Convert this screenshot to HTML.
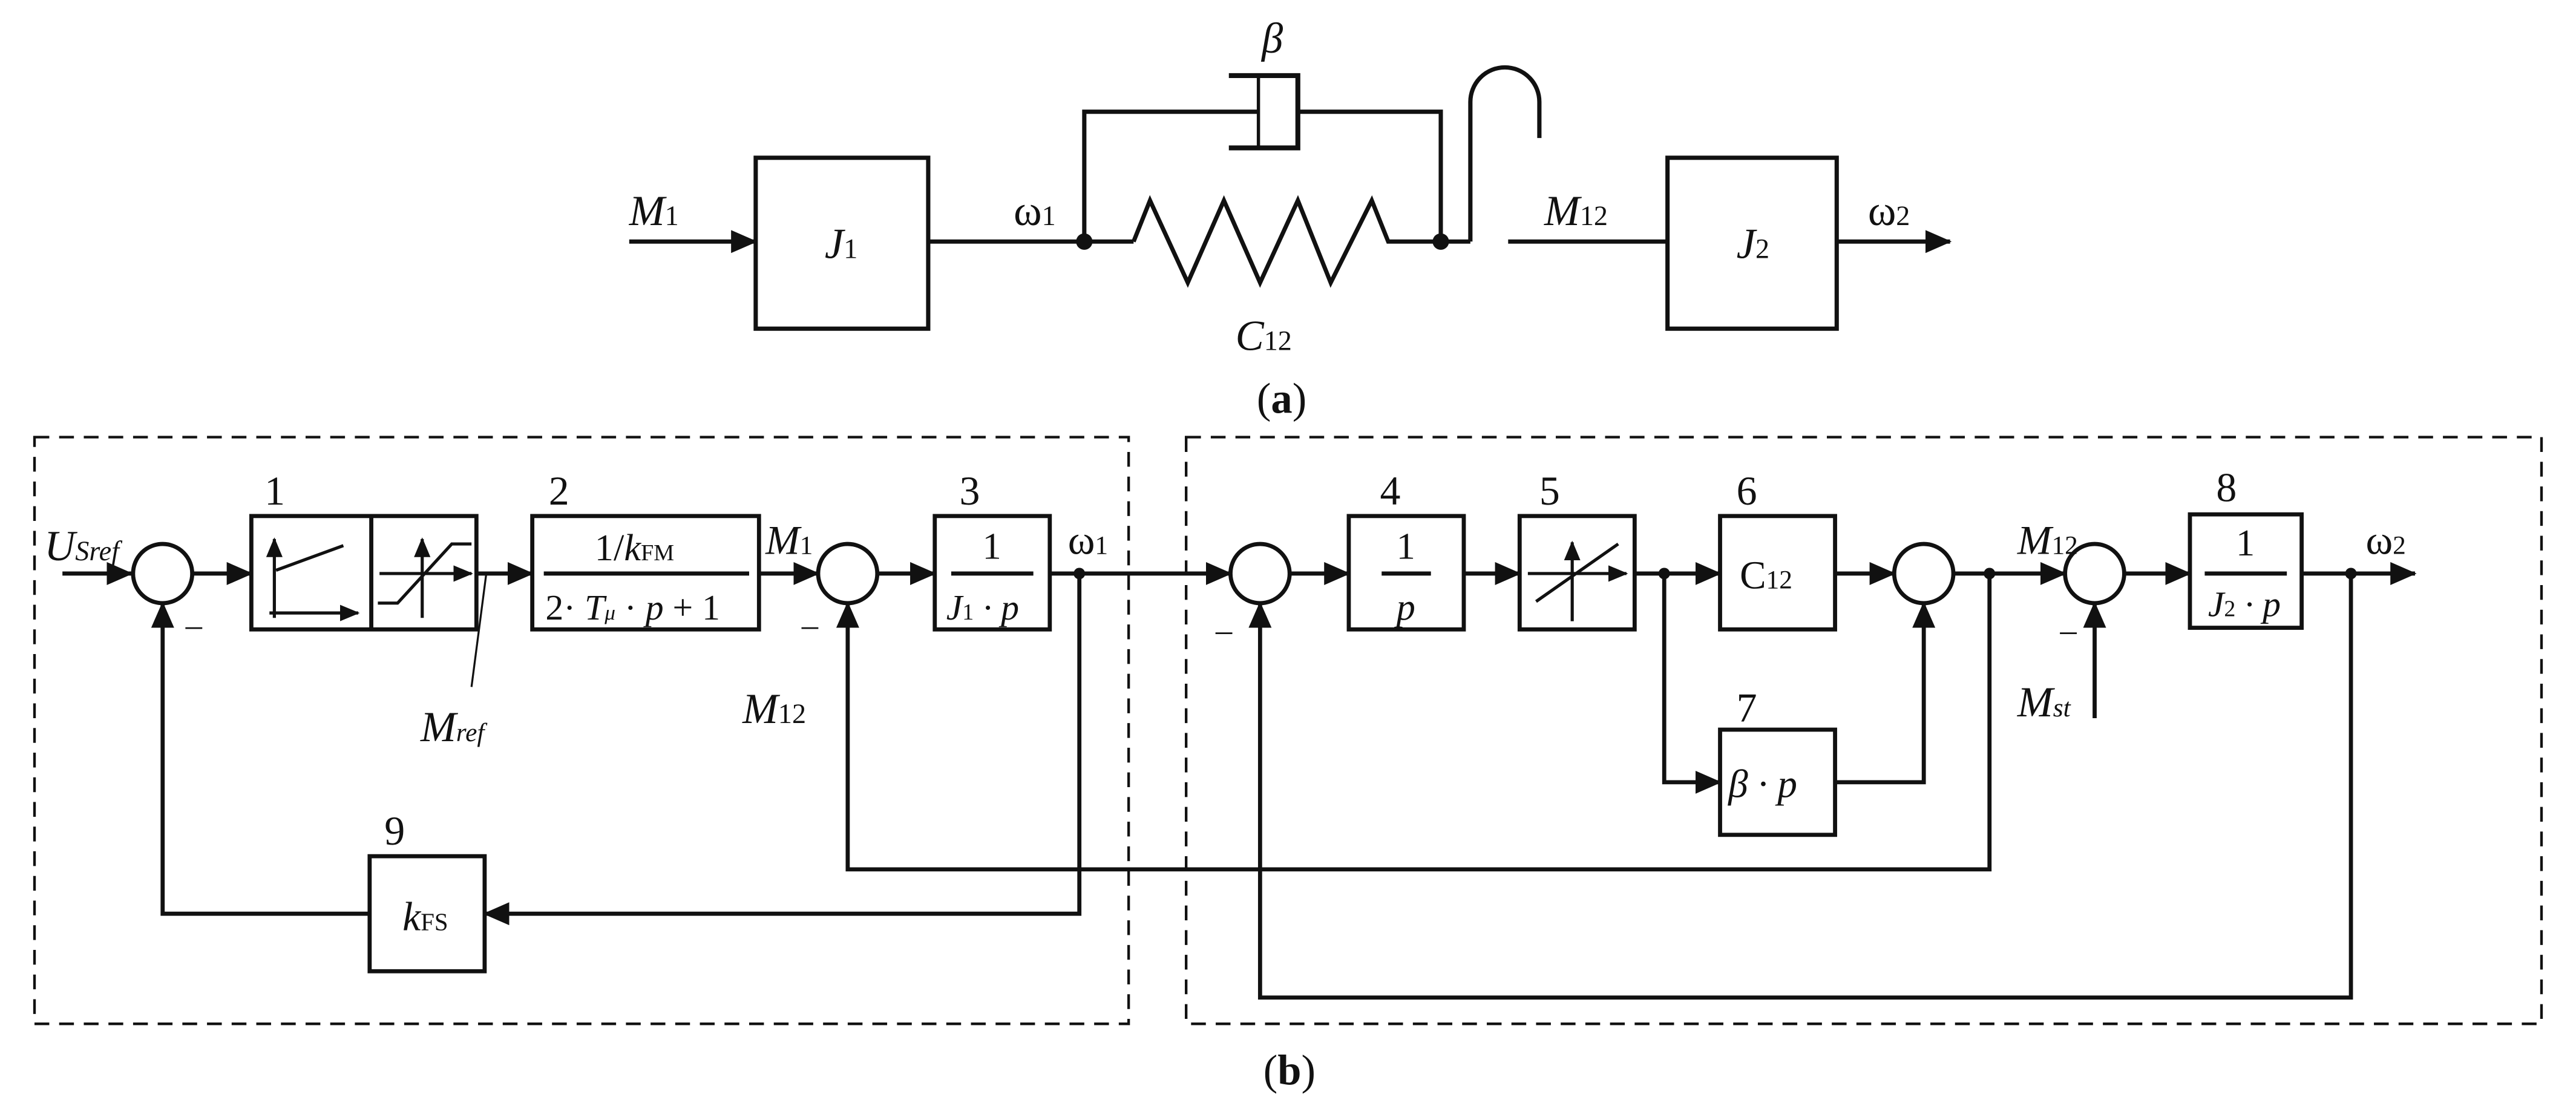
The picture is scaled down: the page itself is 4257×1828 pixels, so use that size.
<!DOCTYPE html>
<html><head><meta charset="utf-8"><style>
html,body{margin:0;padding:0;background:#fff;}
svg{display:block;}
text{font-family:"Liberation Serif",serif;fill:#111;}
.i{font-style:italic;}
</style></head><body>
<svg width="4257" height="1828" viewBox="0 0 1568 673" preserveAspectRatio="none" xmlns="http://www.w3.org/2000/svg">
<defs>
<marker id="a" markerUnits="userSpaceOnUse" markerWidth="16" markerHeight="14" refX="15" refY="7" orient="auto"><path d="M0,0 L16,7 L0,14 z" fill="#111"/></marker>
<marker id="s" markerUnits="userSpaceOnUse" markerWidth="12" markerHeight="10" refX="11" refY="5" orient="auto"><path d="M0,0 L12,5 L0,10 z" fill="#111"/></marker>
</defs>
<g stroke="#111" fill="none">
<g stroke-width="2.6">
<line x1="383" y1="147" x2="460" y2="147" marker-end="url(#a)"/>
<rect x="460" y="96" width="105" height="104"/>
<line x1="565" y1="147" x2="690" y2="147"/>
<polyline points="690,147 700,122 723,172 745,122 767,172 790,122 810,172 835,122 845,147 895,147"/>
<polyline points="660,147 660,68 766,68"/>
<polyline points="790,68 877,68 877,147"/>
<line x1="766" y1="46" x2="766" y2="90" stroke-width="2"/>
<polyline points="748,46 790,46 790,90 748,90" stroke-width="3"/>
<path d="M895,147 L895,62 A21,21 0 0 1 937,62 L937,84"/>
<line x1="918" y1="147" x2="1015" y2="147"/>
<rect x="1015" y="96" width="103" height="104"/>
<line x1="1118" y1="147" x2="1187" y2="147" marker-end="url(#a)"/>
</g>
<circle cx="660" cy="147" r="5" fill="#111" stroke="none"/>
<circle cx="877" cy="147" r="5" fill="#111" stroke="none"/>
<rect x="21" y="266" width="666" height="357" stroke-width="1.6" stroke-dasharray="9,6"/>
<rect x="722" y="266" width="825" height="357" stroke-width="1.6" stroke-dasharray="9,6"/>
<g stroke-width="2.5">
<line x1="38" y1="349" x2="80" y2="349" marker-end="url(#a)"/>
<circle cx="99" cy="349" r="18"/>
<line x1="117" y1="349" x2="153" y2="349" marker-end="url(#a)"/>
<rect x="153" y="314" width="137" height="69"/>
<line x1="226" y1="314" x2="226" y2="383"/>
<line x1="290" y1="349" x2="324" y2="349" marker-end="url(#a)"/>
<rect x="324" y="314" width="138" height="69"/>
<line x1="331" y1="349" x2="456" y2="349"/>
<line x1="462" y1="349" x2="498" y2="349" marker-end="url(#a)"/>
<circle cx="516" cy="349" r="18"/>
<line x1="534" y1="349" x2="569" y2="349" marker-end="url(#a)"/>
<rect x="569" y="314" width="70" height="69"/>
<line x1="579" y1="349" x2="629" y2="349"/>
<line x1="639" y1="349" x2="749" y2="349" marker-end="url(#a)"/>
<circle cx="767" cy="349" r="18"/>
<line x1="785" y1="349" x2="821" y2="349" marker-end="url(#a)"/>
<rect x="821" y="314" width="70" height="69"/>
<line x1="841" y1="349" x2="871" y2="349"/>
<line x1="891" y1="349" x2="925" y2="349" marker-end="url(#a)"/>
<rect x="925" y="314" width="70" height="69"/>
<line x1="995" y1="349" x2="1047" y2="349" marker-end="url(#a)"/>
<rect x="1047" y="314" width="70" height="69"/>
<line x1="1117" y1="349" x2="1153" y2="349" marker-end="url(#a)"/>
<circle cx="1171" cy="349" r="18"/>
<line x1="1189" y1="349" x2="1257" y2="349" marker-end="url(#a)"/>
<circle cx="1275" cy="349" r="18"/>
<line x1="1293" y1="349" x2="1333" y2="349" marker-end="url(#a)"/>
<rect x="1333" y="313" width="68" height="69"/>
<line x1="1342" y1="349" x2="1392" y2="349"/>
<line x1="1401" y1="349" x2="1470" y2="349" marker-end="url(#a)"/>
<polyline points="1013,349 1013,476 1047,476" marker-end="url(#a)"/>
<rect x="1047" y="444" width="70" height="64"/>
<polyline points="1117,476 1171,476 1171,367" marker-end="url(#a)"/>
<polyline points="1211,349 1211,529 516,529 516,367" marker-end="url(#a)"/>
<polyline points="1431,349 1431,607 767,607 767,367" marker-end="url(#a)"/>
<line x1="1275" y1="437" x2="1275" y2="367" marker-end="url(#a)"/>
<polyline points="657,349 657,556 295,556" marker-end="url(#a)"/>
<rect x="225" y="521" width="70" height="70"/>
<polyline points="225,556 99,556 99,367" marker-end="url(#a)"/>
</g>
<g stroke-width="1.9">
<line x1="167" y1="376" x2="167" y2="328" marker-end="url(#s)"/>
<line x1="164" y1="373" x2="218" y2="373" marker-end="url(#s)"/>
<line x1="168" y1="347" x2="209" y2="332"/>
<line x1="257" y1="376" x2="257" y2="328" marker-end="url(#s)"/>
<line x1="231" y1="349" x2="287" y2="349" marker-end="url(#s)"/>
<polyline points="230,367 242,367 275,331 287,331"/>
<line x1="296" y1="349" x2="287" y2="418" stroke-width="1.2"/>
<line x1="957" y1="378" x2="957" y2="330" marker-end="url(#s)"/>
<line x1="930" y1="349" x2="990" y2="349" marker-end="url(#s)"/>
<line x1="935" y1="366" x2="985" y2="331"/>
</g>
<circle cx="657" cy="349" r="3.5" fill="#111" stroke="none"/>
<circle cx="1013" cy="349" r="3.5" fill="#111" stroke="none"/>
<circle cx="1211" cy="349" r="3.5" fill="#111" stroke="none"/>
<circle cx="1431" cy="349" r="3.5" fill="#111" stroke="none"/>
</g>
<text x="383" y="137" font-size="26" class="i">M<tspan font-size="17" font-style="normal">1</tspan></text>
<text x="502" y="157" font-size="26" class="i">J<tspan font-size="17" font-style="normal">1</tspan></text>
<text x="617" y="137" font-size="26">ω<tspan font-size="17">1</tspan></text>
<text x="768" y="32" font-size="26" class="i">β</text>
<text x="752" y="213" font-size="26" class="i">C<tspan font-size="17" font-style="normal">12</tspan></text>
<text x="940" y="137" font-size="26" class="i">M<tspan font-size="17" font-style="normal">12</tspan></text>
<text x="1057" y="157" font-size="26" class="i">J<tspan font-size="17" font-style="normal">2</tspan></text>
<text x="1137" y="137" font-size="26">ω<tspan font-size="17">2</tspan></text>
<text x="765" y="251" font-size="26">(<tspan font-weight="bold">a</tspan>)</text>
<text x="27" y="341" font-size="26" class="i">U<tspan font-size="17">Sref</tspan></text>
<text x="161" y="307" font-size="25">1</text>
<text x="334" y="307" font-size="25">2</text>
<text x="584" y="307" font-size="25">3</text>
<text x="840" y="307" font-size="25">4</text>
<text x="937" y="307" font-size="25">5</text>
<text x="1057" y="307" font-size="25">6</text>
<text x="1349" y="305" font-size="25">8</text>
<text x="1057" y="439" font-size="25">7</text>
<text x="234" y="514" font-size="25">9</text>
<text x="362" y="341" font-size="23">1/<tspan class="i">k</tspan><tspan font-size="14">FM</tspan></text>
<text x="332" y="377" font-size="22">2· <tspan class="i">T</tspan><tspan font-size="13" class="i">μ</tspan> · <tspan class="i">p</tspan> + 1</text>
<text x="598" y="340" font-size="23">1</text>
<text x="576" y="377" font-size="22" class="i">J<tspan font-size="14" font-style="normal">1</tspan> · p</text>
<text x="850" y="340" font-size="23">1</text>
<text x="850" y="377" font-size="23" class="i">p</text>
<text x="1059" y="358" font-size="24">C<tspan font-size="16">12</tspan></text>
<text x="1361" y="338" font-size="23">1</text>
<text x="1344" y="375" font-size="22" class="i">J<tspan font-size="14" font-style="normal">2</tspan> · p</text>
<text x="1052" y="485" font-size="24" class="i">β · p</text>
<text x="245" y="566" font-size="25" class="i">k<tspan font-size="15" font-style="normal">FS</tspan></text>
<text x="466" y="337" font-size="25" class="i">M<tspan font-size="16" font-style="normal">1</tspan></text>
<text x="650" y="337" font-size="25">ω<tspan font-size="16">1</tspan></text>
<text x="1228" y="337" font-size="25" class="i">M<tspan font-size="16" font-style="normal">12</tspan></text>
<text x="1440" y="337" font-size="25">ω<tspan font-size="16">2</tspan></text>
<text x="256" y="451" font-size="26" class="i">M<tspan font-size="16">ref</tspan></text>
<text x="452" y="440" font-size="26" class="i">M<tspan font-size="17" font-style="normal">12</tspan></text>
<text x="1228" y="436" font-size="26" class="i">M<tspan font-size="16">st</tspan></text>
<text x="113" y="387" font-size="20">–</text>
<text x="488" y="387" font-size="20">–</text>
<text x="740" y="390" font-size="20">–</text>
<text x="1254" y="390" font-size="20">–</text>
<text x="769" y="660" font-size="26">(<tspan font-weight="bold">b</tspan>)</text>
</svg>
</body></html>
